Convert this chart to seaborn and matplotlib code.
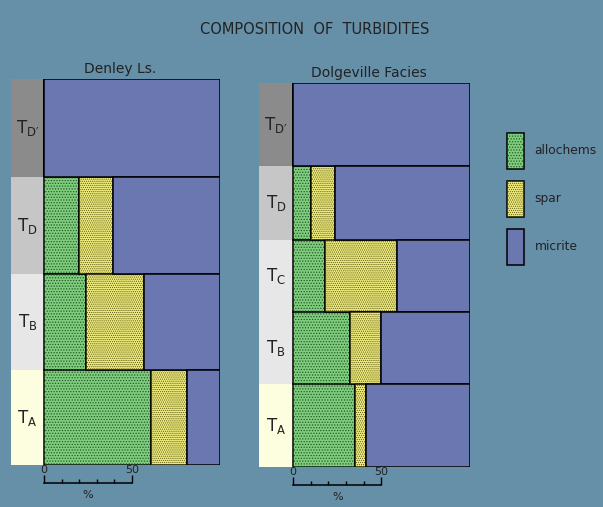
import numpy as np
import matplotlib
matplotlib.use("Agg")
import matplotlib.pyplot as plt
from matplotlib.patches import Patch
from matplotlib.legend_handler import HandlerTuple
import seaborn as sns

# composition of each turbidite division, % of rock
denley_units = ["D\u2032", "D", "B", "A"]
denley_thickness = [98, 97, 96, 95]
denley_allochems = [0, 20, 24, 61]
denley_spar = [0, 19, 33, 20]
denley_micrite = [100, 61, 43, 19]

dolge_units = ["D\u2032", "D", "C", "B", "A"]
dolge_thickness = [83, 74, 72, 72, 83]
dolge_allochems = [0, 10, 18, 32, 35]
dolge_spar = [0, 14, 41, 18, 6]
dolge_micrite = [100, 76, 41, 50, 59]

components = ["allochems", "spar", "micrite"]
scale_ticks = [0, 10, 20, 30, 40, 50]

BG = "#668fa8"
comp_colors = {"allochems": "#7fce7d", "spar": "#f1ef7f", "micrite": "#6b77b1"}
comp_dots = {"allochems": ("#24582a", "......"), "spar": ("#5e5a18", "........"), "micrite": (None, None)}
unit_colors = {"D\u2032": "#8b8b8b", "D": "#c6c6c6", "C": "#e7e7e7", "B": "#e7e7e7", "A": "#fdfde0"}
TXT = "#222222"

sns.set_theme(style="white", rc={"figure.facecolor": BG, "axes.facecolor": BG,
                                 "hatch.linewidth": 0.6})
plt.rcParams["font.family"] = ["DejaVu Sans"]

W, H = 603, 507
fig = plt.figure(figsize=(W / 100, H / 100), dpi=100)


def px_axes(x0, y0, x1, y1):
    return fig.add_axes([x0 / W, 1 - y1 / H, (x1 - x0) / W, (y1 - y0) / H])


def draw_column(ax, units, thick, allo, spar, micr, label_w, title):
    thick = np.array(thick, dtype=float)
    tops = np.concatenate([[0], np.cumsum(thick)[:-1]])
    centers = tops + thick / 2
    ax.barh(centers, label_w, left=-label_w, height=thick,
            color=[unit_colors[u] for u in units], lw=0)
    left = np.zeros(len(units))
    for name, vals in zip(components, [allo, spar, micr]):
        vals = np.array(vals, dtype=float)
        ax.barh(centers, vals, left=left, height=thick, color=comp_colors[name],
                edgecolor="black", lw=1.1)
        dot_color, hatch = comp_dots[name]
        if hatch:
            ax.barh(centers, vals, left=left, height=thick, fill=False,
                    edgecolor=dot_color, lw=0, hatch=hatch)
        left += vals
    for u, c in zip(units, centers):
        ax.text(-label_w / 2, c, "T$_\\mathregular{%s}$" % u, ha="center", va="center",
                fontsize=12, color=TXT)
    ax.set_xlim(-label_w, 100)
    ax.set_ylim(thick.sum(), 0)
    ax.axis("off")
    ax.set_title(title, fontsize=10, color=TXT, pad=4, x=0.52)


def draw_scale(x0, x1, y, label_w):
    sa = px_axes(x0, y, x1, y + 1)
    sa.set_facecolor("none")
    sa.set_xlim(-label_w, 100)
    for s in ["left", "right", "bottom"]:
        sa.spines[s].set_visible(False)
    sa.spines["top"].set_bounds(0, 50)
    sa.spines["top"].set_color("black")
    sa.spines["top"].set_linewidth(1.1)
    sa.set_yticks([])
    sa.xaxis.set_ticks_position("top")
    sa.set_xticks([scale_ticks[0], scale_ticks[-1]])
    sa.set_xticks(scale_ticks[1:-1], minor=True)
    sa.tick_params(axis="x", which="major", direction="out", length=6, width=1,
                   color="black", labelsize=8, pad=0, labelcolor=TXT)
    sa.tick_params(axis="x", which="minor", direction="out", length=3, width=1,
                   color="black")
    sa.text(25, -11, "%", transform=sa.get_xaxis_transform(), fontsize=8,
            ha="center", va="center", color=TXT)


ax1 = px_axes(11, 79, 220, 465)
draw_column(ax1, denley_units, denley_thickness, denley_allochems, denley_spar,
            denley_micrite, 18.75, "Denley Ls.")
ax2 = px_axes(259, 83, 470, 467)
draw_column(ax2, dolge_units, dolge_thickness, dolge_allochems, dolge_spar,
            dolge_micrite, 19.2, "Dolgeville Facies")

draw_scale(11, 220, 483, 18.75)
draw_scale(259, 470, 485, 19.2)

fig.text(315 / W, 1 - 29 / H, "COMPOSITION  OF  TURBIDITES", ha="center", va="center",
         fontsize=10.5, color=TXT)

handles = []
for name in components:
    base = Patch(facecolor=comp_colors[name], edgecolor="black", lw=1.1)
    dot_color, hatch = comp_dots[name]
    if hatch:
        handles.append((base, Patch(fill=False, edgecolor=dot_color, lw=0, hatch=hatch)))
    else:
        handles.append((base,))
fig.legend(handles, components, loc="upper left", bbox_to_anchor=(501 / W, 1 - 127 / H),
           frameon=False, fontsize=8.8, borderpad=0, handleheight=4.1, handlelength=1.4,
           labelspacing=1.02, handletextpad=0.85, labelcolor=TXT,
           handler_map={tuple: HandlerTuple(ndivide=1, pad=0)})

fig.savefig("out.png", dpi=100, facecolor=BG)
